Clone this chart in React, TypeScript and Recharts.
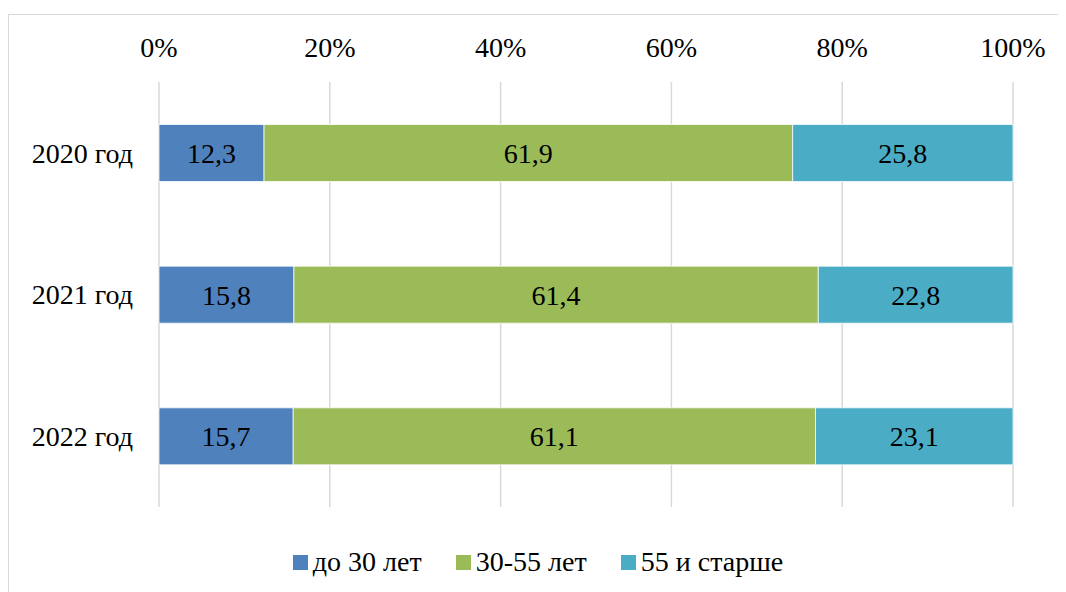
import React from 'react';
import { BarChart, Bar, XAxis, YAxis, CartesianGrid, Legend, LabelList } from 'recharts';

const years = ['2020 год', '2021 год', '2022 год'];
const under30 = [12.3, 15.8, 15.7];
const from30to55 = [61.9, 61.4, 61.1];
const over55 = [25.8, 22.8, 23.1];
const percentTicks = [0, 0.2, 0.4, 0.6, 0.8, 1];

const series = [
  { key: 'under30', name: 'до 30 лет', color: '#4F81BD' },
  { key: 'mid', name: '30-55 лет', color: '#9BBB59' },
  { key: 'over55', name: '55 и старше', color: '#4BACC6' },
];

const data = years.map((year, i) => ({
  year,
  under30: under30[i],
  mid: from30to55[i],
  over55: over55[i],
}));

const FONT = 'Liberation Serif';
const FS = 28;

const fmt = (v: any) => String(v).replace('.', ',');

const LegendContent = () => (
  <div style={{ display: 'flex', justifyContent: 'center', alignItems: 'center', height: 30, fontFamily: FONT, fontSize: FS, color: '#000' }}>
    {series.map((s) => (
      <div key={s.key} style={{ display: 'flex', alignItems: 'center', margin: '0 17px' }}>
        <span style={{ display: 'inline-block', width: 15, height: 15, background: s.color, marginRight: 5 }} />
        <span>{s.name}</span>
      </div>
    ))}
  </div>
);

export default function App() {
  return (
    <div style={{ marginTop: 6, width: 1060, height: 590, border: '1px solid #d9d9d9', boxSizing: 'border-box', background: '#fff' }}>
      <BarChart
        width={1058}
        height={578}
        data={data}
        layout="vertical"
        stackOffset="expand"
        barCategoryGap="30%"
        margin={{ top: 37, right: 54, bottom: 56, left: 0 }}
      >
        <CartesianGrid horizontal={false} stroke="#d9d9d9" strokeWidth={1.5} />
        <XAxis
          type="number"
          orientation="top"
          domain={[0, 1]}
          ticks={percentTicks}
          tickFormatter={(v: number) => `${Math.round(v * 100)}%`}
          axisLine={false}
          tickLine={false}
          tickSize={0}
          tickMargin={25}
          height={30}
          tick={{ fill: '#000', fontSize: FS, fontFamily: FONT }}
        />
        <YAxis
          type="category"
          dataKey="year"
          width={150}
          axisLine={false}
          tickLine={false}
          tickSize={0}
          tickMargin={26}
          tick={{ fill: '#000', fontSize: FS, fontFamily: FONT }}
        />
        <Legend content={<LegendContent />} wrapperStyle={{ top: 532, left: 0, width: 1058 }} />
        {series.map((s) => (
          <Bar key={s.key} dataKey={s.key} name={s.name} stackId="a" fill={s.color} stroke="#ffffff" strokeWidth={0.75} isAnimationActive={false}>
            <LabelList dataKey={s.key} position="center" formatter={fmt} fill="#000" fontSize={FS} fontFamily={FONT} />
          </Bar>
        ))}
      </BarChart>
    </div>
  );
}
